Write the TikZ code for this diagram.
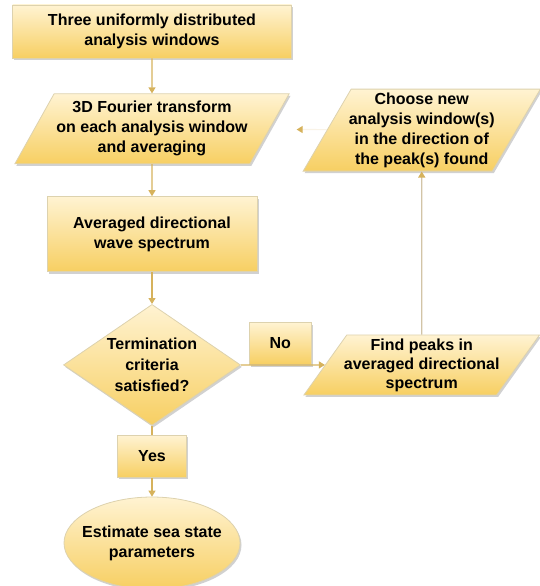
\documentclass[tikz,border=0pt]{standalone}
\usepackage{fontspec}
\setmainfont{Liberation Sans}
\usepackage{xcolor}
\usetikzlibrary{arrows.meta, positioning, shapes.geometric, shadows}

\definecolor{boxtop}{HTML}{FFF3D2}
\definecolor{boxbot}{HTML}{F7CF62}
\definecolor{boxedge}{HTML}{DDD2AE}
\definecolor{linecol}{HTML}{D6B25C}
\definecolor{greyline}{HTML}{D2C4A6}

\begin{document}
\begin{tikzpicture}[
  x=1pt, y=1pt,
  font=\fontsize{16}{20}\selectfont\bfseries,
  box/.style={draw=boxedge, line width=0.8pt, top color=boxtop, bottom color=boxbot,
    drop shadow={shadow xshift=1.5pt, shadow yshift=-2pt, fill=black!40, opacity=0.45},
    align=center, inner sep=0pt},
  para/.style={box, trapezium, trapezium left angle=#1, trapezium right angle=180-#1,
    trapezium stretches=true, inner xsep=-3pt},
  decision/.style={box, diamond, aspect=1.46, font=\fontsize{16}{21}\selectfont\bfseries},
  oval/.style={box, ellipse, inner xsep=-8pt},
  arrow/.style={draw=linecol, line width=1.2pt, -{Triangle[width=7pt, length=6pt, color=linecol]}},
  link/.style={draw=linecol, line width=1.2pt},
]
\useasboundingbox (0,0) rectangle (539,-586);

% Nodes
\node[box, minimum width=279pt, minimum height=53pt] (n1) at (152,-31.5) {Three uniformly distributed\\analysis windows};
\node[para=56, minimum width=275pt, minimum height=70pt, below=35pt of n1] (n2) {3D Fourier transform\\on each analysis window\\and averaging};
\node[box, minimum width=210pt, minimum height=75pt, below=32pt of n2] (n3) {Averaged directional\\wave spectrum};
\node[decision, minimum width=177pt, minimum height=121pt, below=32pt of n3] (n4) {Termination\\criteria\\satisfied?};
\node[box, minimum width=62pt, minimum height=42pt, above right=0pt and 8pt of n4.east] (n5) {No};
\node[para=51, minimum width=236pt, minimum height=60pt, right=84pt of n4,
  font=\fontsize{16}{19}\selectfont\bfseries] (n6) {Find peaks in\\averaged directional\\spectrum};
\node[para=57.6, minimum width=238pt, minimum height=82pt, above=163pt of n6] (n7) {Choose new\\analysis window(s)\\in the direction of\\the peak(s) found};
\node[box, minimum width=69pt, minimum height=42pt, below=9pt of n4] (n8) {Yes};
\node[oval, minimum width=176pt, minimum height=92pt, below=19pt of n8] (n9) {Estimate sea state\\parameters};

% Arrows
\draw[arrow] (n1) -- (n2);
\draw[arrow] (n2) -- (n3);
\draw[arrow] (n3) -- (n4);
\draw[arrow] (n4.east) -- (n6);
\draw[arrow, draw=greyline] (n6) -- (n7);
\draw[arrow, draw=linecol!15, shorten >=27pt] (n7) -- (n2);
\draw[link] (n4) -- (n8);
\draw[arrow] (n8) -- (n9);
\end{tikzpicture}
\end{document}
